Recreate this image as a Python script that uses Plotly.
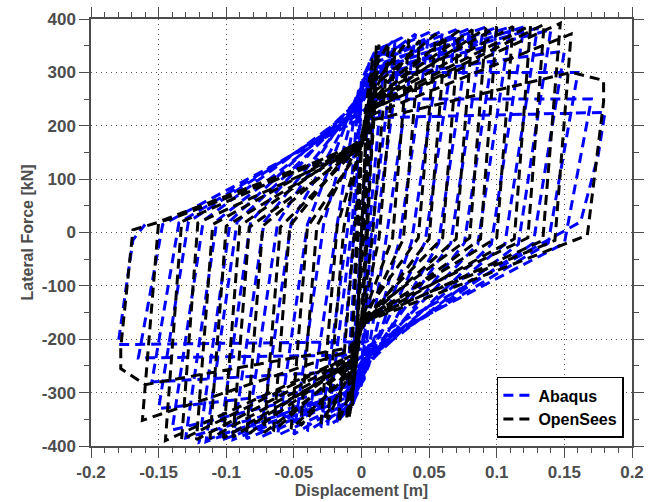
import plotly.graph_objects as go

# ---------------- data ----------------
# Abaqus hysteresis path (displacement [m], lateral force [kN]), one line per cycle
abaqus_disp = [
    0.0,
    0.004, -0.004,
    0.008, -0.008,
    0.012, 0.004, 0.0, -0.012, -0.004, 0.0,
    0.018, 0.006, 0.0, -0.006, -0.018, -0.006, 0.0, 0.006,
    0.025, 0.007, 0.0, -0.010, -0.025, -0.007, 0.0, 0.010,
    0.030, 0.010, 0.002, -0.012, -0.030, -0.010, -0.002, 0.012,
    0.040, 0.018, 0.002, -0.012, -0.040, -0.018, -0.002, 0.012,
    0.050, 0.028, 0.003, -0.012, -0.050, -0.028, -0.003, 0.012,
    0.060, 0.037, 0.003, -0.012, -0.062, -0.040, -0.003, 0.012,
    0.070, 0.047, 0.003, -0.012, -0.075, -0.052, -0.003, 0.012,
    0.080, 0.057, 0.003, -0.012, -0.085, -0.062, -0.003, 0.012,
    0.090, 0.066, 0.003, -0.012, -0.095, -0.072, -0.003, 0.012,
    0.100, 0.076, 0.003, -0.012, -0.105, -0.082, -0.003, 0.012,
    0.110, 0.086, 0.003, -0.012, -0.115, -0.092, -0.003, 0.012,
    0.120, 0.096, 0.003, -0.012, -0.120, -0.097, -0.003, 0.012,
    0.130, 0.106, 0.003, -0.012, -0.130, -0.107, -0.003, 0.012,
    0.140, 0.116, 0.003, -0.012, -0.140, -0.117, -0.003, 0.012,
    0.150, 0.127, 0.003, -0.012, -0.150, -0.128, -0.003, 0.012,
    0.160, 0.138, 0.003, -0.012, -0.155, -0.135, -0.003, 0.012,
    0.170, 0.150, 0.003, -0.012, -0.165, -0.147, -0.003, 0.012,
    0.180, 0.175, 0.162, 0.003, -0.012, -0.180, -0.169, -0.160,
]
abaqus_force = [
    0,
    200, -200,
    300, -300,
    340, 30, -280, -340, -30, 280,
    355, 15, -270, -320, -355, -15, 270, 320,
    362, -10, -285, -340, -362, 12, 285, 340,
    365, -12, -265, -320, -365, 12, 260, 320,
    372, -15, -275, -330, -372, 15, 270, 330,
    375, -15, -260, -320, -378, 15, 255, 320,
    378, -18, -265, -320, -380, 15, 260, 320,
    380, -18, -250, -310, -384, 18, 245, 310,
    382, -20, -260, -310, -386, 18, 255, 315,
    383, -20, -245, -305, -388, 20, 240, 305,
    384, -20, -255, -305, -390, 20, 250, 310,
    385, -22, -240, -300, -392, 20, 235, 300,
    385, -22, -250, -300, -393, 22, 245, 300,
    383, -22, -235, -300, -385, 22, 230, 295,
    380, -22, -240, -290, -370, 22, 235, 290,
    340, -20, -230, -290, -330, 20, 225, 300,
    300, -20, -225, -260, -280, 18, 220, 250,
    250, -20, -215, -230, -235, 15, 210, 215,
    225, 145, 20, -205, -205, -210, -14, 15,
]

# OpenSees hysteresis path, one line per cycle
opensees_disp = [
    0.0,
    0.004, -0.004,
    0.008, -0.007,
    0.011, 0.004, 0.0, -0.009, -0.003, 0.0,
    0.013, 0.003, 0.0, -0.006, -0.011, -0.002, 0.0, 0.006,
    0.020, 0.008, 0.0, -0.006, -0.017, -0.005, 0.0, 0.007,
    0.025, 0.013, 0.0, -0.007, -0.025, -0.013, 0.0, 0.007,
    0.035, 0.023, 0.0, -0.007, -0.030, -0.018, 0.0, 0.007,
    0.043, 0.031, 0.0, -0.007, -0.045, -0.033, 0.0, 0.007,
    0.055, 0.042, 0.0, -0.007, -0.052, -0.040, 0.0, 0.007,
    0.062, 0.050, 0.0, -0.007, -0.065, -0.053, 0.0, 0.007,
    0.072, 0.060, 0.0, -0.007, -0.072, -0.060, 0.0, 0.007,
    0.082, 0.070, 0.0, -0.007, -0.085, -0.073, 0.0, 0.007,
    0.092, 0.080, 0.0, -0.007, -0.095, -0.083, 0.0, 0.007,
    0.100, 0.088, 0.0, -0.007, -0.102, -0.090, 0.0, 0.007,
    0.112, 0.100, 0.0, -0.007, -0.112, -0.100, 0.0, 0.007,
    0.125, 0.113, 0.0, -0.007, -0.122, -0.110, 0.0, 0.007,
    0.135, 0.123, 0.0, -0.007, -0.133, -0.121, 0.0, 0.007,
    0.147, 0.134, 0.0, -0.007, -0.145, -0.133, 0.0, 0.007,
    0.155, 0.143, 0.0, -0.007, -0.162, -0.150, 0.0, 0.007, 0.155,
    0.179, 0.179, 0.167, 0.0, -0.007, -0.160, -0.178, -0.178, -0.169, -0.137, 0.0,
]
opensees_force = [
    0,
    230, -230,
    330, -330,
    350, -20, -170, -348, 15, 170,
    352, -15, -165, -280, -350, 10, 165, 290,
    355, -10, -160, -285, -355, 10, 160, 250,
    345, -10, -170, -250, -350, 10, 170, 270,
    362, -10, -165, -260, -358, 12, 165, 240,
    360, -12, -175, -250, -362, 12, 175, 270,
    372, -10, -160, -260, -368, 10, 160, 240,
    365, -12, -180, -240, -372, 12, 180, 260,
    378, -10, -165, -250, -375, 10, 165, 250,
    380, -12, -170, -240, -380, 12, 170, 240,
    383, -10, -160, -240, -383, 10, 160, 250,
    385, -12, -175, -245, -385, 12, 175, 240,
    386, -10, -165, -240, -386, 12, 165, 235,
    388, -12, -170, -235, -388, 15, 170, 230,
    390, -10, -160, -230, -388, 18, 160, 230,
    392, -15, -170, -230, -390, 20, 170, 220,
    372, -15, -165, -220, -352, 20, 165, 210, 300,
    285, 245, -5, -170, -215, -285, -255, -215, 5, 29, 160,
]

x_tickvals = [-0.2, -0.15, -0.1, -0.05, 0, 0.05, 0.1, 0.15, 0.2]
x_ticktext = ["-0.2", "-0.15", "-0.1", "-0.05", "0", "0.05", "0.1", "0.15", "0.2"]
y_tickvals = [-400, -300, -200, -100, 0, 100, 200, 300, 400]
y_ticktext = ["-400", "-300", "-200", "-100", "0", "100", "200", "300", "400"]

# ---------------- figure ----------------
AX = "#4d4d4d"
TXT = "#4d4d4d"
FONT = "Liberation Sans, Arial, sans-serif"

fig = go.Figure()
fig.add_trace(go.Scatter(
    x=abaqus_disp, y=abaqus_force, mode="lines", name="Abaqus",
    line=dict(color="rgb(0,0,255)", width=3, dash="10px,6px"),
))
fig.add_trace(go.Scatter(
    x=opensees_disp, y=opensees_force, mode="lines", name="OpenSees",
    line=dict(color="black", width=3, dash="10px,6px"),
))

axis_common = dict(
    showline=True, linecolor=AX, linewidth=1.5, mirror="ticks",
    ticks="outside", ticklen=10, tickwidth=1.2, tickcolor=AX,
    showgrid=True, gridcolor="#555555", gridwidth=1, griddash="1px,4px",
    zeroline=False, automargin=False,
    tickfont=dict(family=FONT, size=17, color=TXT, weight="bold"),
)

fig.update_xaxes(
    range=[-0.2, 0.2], tickvals=x_tickvals, ticktext=x_ticktext,
    minor=dict(dtick=0.01, tick0=0, ticks="outside", ticklen=5, tickcolor=AX, tickwidth=1.2, showgrid=False),
    title=dict(text="Displacement [m]", standoff=2,
               font=dict(family=FONT, size=16, color=TXT, weight="bold")),
    **axis_common,
)
fig.update_yaxes(
    range=[-400, 400], tickvals=y_tickvals, ticktext=y_ticktext,
    minor=dict(dtick=50, tick0=0, ticks="outside", ticklen=5, tickcolor=AX, tickwidth=1.2, showgrid=False),
    title=dict(text="Lateral Force [kN]", standoff=4,
               font=dict(family=FONT, size=16, color=TXT, weight="bold")),
    **axis_common,
)

fig.update_layout(
    width=652, height=502,
    margin=dict(l=91, r=20, t=19, b=56),
    paper_bgcolor="white", plot_bgcolor="white",
    showlegend=True,
    legend=dict(
        x=0.985, y=0.019, xanchor="right", yanchor="bottom",
        bgcolor="white", bordercolor="black", borderwidth=1.5,
        font=dict(family=FONT, size=16, color="black", weight="bold"),
        tracegroupgap=0, itemwidth=30,
    ),
)

fig.write_html("out.html")
